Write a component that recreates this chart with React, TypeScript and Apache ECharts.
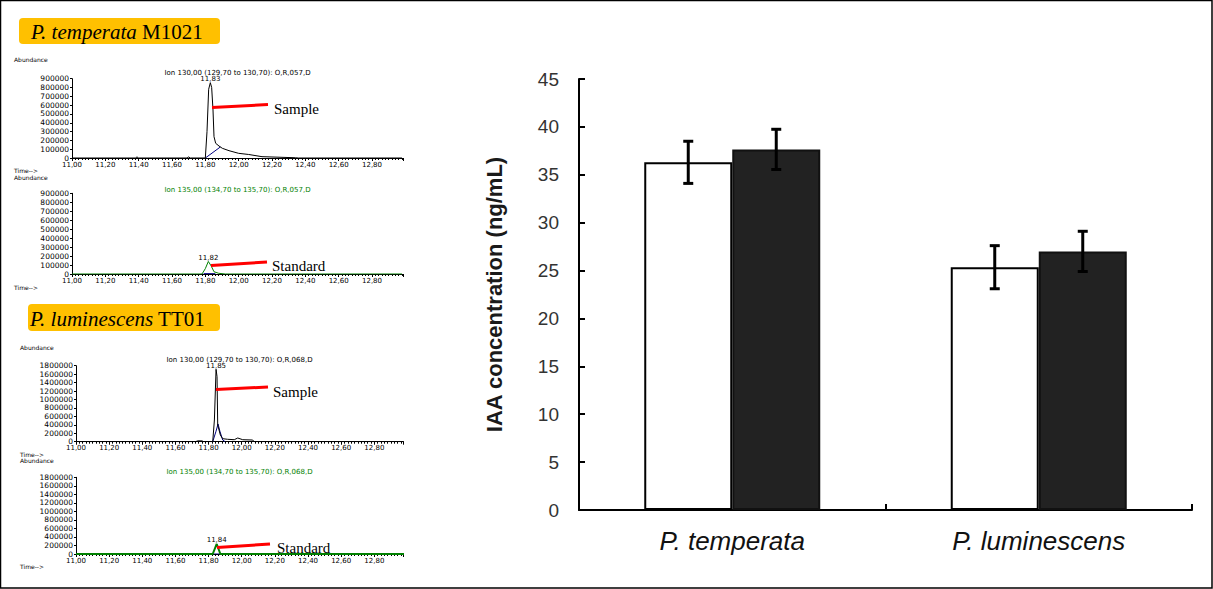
import React, { useEffect, useRef } from "react";
import * as echarts from "echarts";

// ---- Bar chart data ----
const CATEGORIES = ["P. temperata", "P. luminescens"];
const WHITE_MEANS = [36.3, 25.35];
const WHITE_ERR = [2.2, 2.25];
const BLACK_MEANS = [37.65, 27.0];
const BLACK_ERR = [2.1, 2.1];
const Y_MAX = 45;
const Y_INTERVAL = 5;

// ---- Chromatogram data ([time min, abundance]) ----
const TEMP_SAMPLE_TRACE: [number, number][] = [
  [11.0, 0], [11.38, 0], [11.39, 12000], [11.4, 0], [11.69, 0], [11.7, 12000], [11.71, 0],
  [11.8, 0], [11.81, 300000], [11.82, 780000], [11.83, 855000], [11.838, 800000],
  [11.846, 545000], [11.852, 242000], [11.862, 167000], [11.882, 136000], [11.902, 110000],
  [11.942, 83000], [12.0, 53000], [12.06, 40000], [12.14, 15000], [12.34, 3000], [12.36, 0], [12.98, 0],
];
const TEMP_SAMPLE_BASE: [number, number][] = [[11.8, 0], [11.89, 125000]];
const TEMP_STD_TRACE: [number, number][] = [
  [11.0, 0], [11.78, 0], [11.8, 60000], [11.818, 140000], [11.835, 90000], [11.852, 25000],
  [11.88, 8000], [11.92, 0], [12.98, 0],
];
const TEMP_STD_BASE: [number, number][] = [[11.79, 4000], [11.86, 4000]];
const LUM_SAMPLE_TRACE: [number, number][] = [
  [11.0, 0], [11.72, 0], [11.735, 20000], [11.76, 20000], [11.77, 0], [11.825, 0],
  [11.835, 514000], [11.845, 1715000], [11.851, 1540000], [11.855, 395000], [11.871, 159000],
  [11.885, 71000], [11.915, 57000], [11.955, 47000], [11.976, 88000], [12.006, 47000],
  [12.066, 40000], [12.075, 0], [12.98, 0],
];
const LUM_SAMPLE_BASE: [number, number][] = [
  [11.825, 0], [11.845, 250000], [11.857, 420000], [11.868, 250000], [11.885, 40000], [11.9, 0],
];
const LUM_STD_TRACE: [number, number][] = [
  [11.0, 0], [11.825, 0], [11.849, 235000], [11.871, 0], [12.98, 0],
];
const LUM_STD_BASE: [number, number][] = [[11.822, 0], [11.874, 0]];
const PEAK_LABELS = ["11,83", "11,82", "11,85", "11,84"];
const ION_TITLES = [
  "Ion 130,00 (129,70 to 130,70): O,R,057,D",
  "Ion 135,00 (134,70 to 135,70): O,R,057,D",
  "Ion 130,00 (129,70 to 130,70): O,R,068,D",
  "Ion 135,00 (134,70 to 135,70): O,R,068,D",
];
const X_MIN = 11.0;
const X_INTERVAL = 0.2;
const Y_MAX_TEMP = 900000;
const Y_INT_TEMP = 100000;
const Y_MAX_LUM = 1800000;
const Y_INT_LUM = 200000;

const SANS = "'Liberation Sans', Arial, sans-serif";
const SERIF = "'Liberation Serif', 'Times New Roman', serif";
const MONO = "'DejaVu Sans', sans-serif";

const peakOf = (arr: [number, number][]) =>
  arr.reduce((m, p) => (p[1] > m[1] ? p : m), arr[0]);

export default function App() {
  const ref = useRef<HTMLDivElement>(null);

  useEffect(() => {
    document.body.style.margin = "0";
    const chart = echarts.init(ref.current!, null, { renderer: "svg" });

    const chromGrids = [
      { left: 72, top: 78.7, width: 331, height: 79.3 },
      { left: 72, top: 193.3, width: 331, height: 80.7 },
      { left: 76, top: 365.7, width: 327, height: 76 },
      { left: 76, top: 477.3, width: 327, height: 76.7 },
    ];
    const xMaxes = [12.986, 12.986, 12.973, 12.973];
    const yMaxes = [Y_MAX_TEMP, Y_MAX_TEMP, Y_MAX_LUM, Y_MAX_LUM];
    const yInts = [Y_INT_TEMP, Y_INT_TEMP, Y_INT_LUM, Y_INT_LUM];

    const chromX = chromGrids.map((_, i) => ({
      type: "value",
      gridIndex: i + 1,
      min: X_MIN,
      max: xMaxes[i],
      interval: X_INTERVAL,
      axisLine: { lineStyle: { color: "#000", width: 1 } },
      axisTick: { show: true, length: 3, lineStyle: { color: "#000" } },
      minorTick: { show: true, splitNumber: 10, length: 2, lineStyle: { color: "#000" } },
      splitLine: { show: false },
      axisLabel: {
        fontSize: 7,
        fontFamily: MONO,
        color: "#000",
        margin: 3,
        showMaxLabel: false,
        formatter: (v: number) => v.toFixed(2).replace(".", ","),
      },
    }));
    const chromY = chromGrids.map((_, i) => ({
      type: "value",
      gridIndex: i + 1,
      min: 0,
      max: yMaxes[i],
      interval: yInts[i],
      axisLine: { show: true, lineStyle: { color: "#000", width: 1 } },
      axisTick: { show: true, length: 2, lineStyle: { color: "#000" } },
      splitLine: { show: false },
      axisLabel: {
        fontSize: 7.5,
        fontFamily: MONO,
        color: "#000",
        margin: 3,
        formatter: (v: number) => String(Math.round(v)),
      },
    }));

    const traces: [number, number][][] = [TEMP_SAMPLE_TRACE, TEMP_STD_TRACE, LUM_SAMPLE_TRACE, LUM_STD_TRACE];
    const bases: [number, number][][] = [TEMP_SAMPLE_BASE, TEMP_STD_BASE, LUM_SAMPLE_BASE, LUM_STD_BASE];
    const traceColors = ["#000000", "#008000", "#000000", "#008000"];
    const traceWidths = [1, 1, 1, 2];

    const chromSeries: any[] = [];
    traces.forEach((tr, i) => {
      chromSeries.push({
        type: "line",
        name: "base" + i,
        xAxisIndex: i + 1,
        yAxisIndex: i + 1,
        data: bases[i],
        symbol: "none",
        lineStyle: { color: "#000080", width: 1 },
        z: 3,
      });
      chromSeries.push({
        type: "line",
        name: "trace" + i,
        xAxisIndex: i + 1,
        yAxisIndex: i + 1,
        data: tr,
        symbol: "none",
        lineStyle: { color: traceColors[i], width: traceWidths[i] },
        z: 4,
        markPoint: {
          symbol: "circle",
          symbolSize: 0,
          silent: true,
          label: {
            show: true,
            position: "top",
            distance: 0,
            formatter: PEAK_LABELS[i],
            fontSize: 7,
            fontFamily: MONO,
            color: "#000",
          },
          data: [{ coord: peakOf(tr) }],
        },
      });
    });

    const errSeries = (means: number[], errs: number[], offset: number, name: string) => ({
      type: "custom",
      name,
      xAxisIndex: 0,
      yAxisIndex: 0,
      z: 10,
      data: means.map((m, i) => [i, m, errs[i]]),
      renderItem: (params: any, api: any) => {
        const cat = api.value(0);
        const v = api.value(1);
        const e = api.value(2);
        const top = api.coord([cat, v + e]);
        const bot = api.coord([cat, v - e]);
        const x = top[0] + offset;
        const cap = 5;
        const st = { stroke: "#000", lineWidth: 3 };
        return {
          type: "group",
          children: [
            { type: "line", shape: { x1: x, y1: top[1], x2: x, y2: bot[1] }, style: st },
            { type: "line", shape: { x1: x - cap, y1: top[1], x2: x + cap, y2: top[1] }, style: st },
            { type: "line", shape: { x1: x - cap, y1: bot[1], x2: x + cap, y2: bot[1] }, style: st },
          ],
        };
      },
    });

    const txt = (x: number, y: number, text: string, extra: any = {}) => ({
      type: "text",
      x,
      y,
      z: 100,
      style: {
        text,
        fill: "#000",
        fontSize: 7,
        fontFamily: MONO,
        align: "left",
        verticalAlign: "middle",
        textAlign: "left",
        textVerticalAlign: "middle",
        ...extra,
      },
    });
    const redLine = (x1: number, y1: number, x2: number, y2: number) => ({
      type: "line",
      z: 100,
      shape: { x1, y1, x2, y2 },
      style: { stroke: "#ff0000", lineWidth: 3 },
    });
    const box = (x: number, y: number, w: number, h: number, tx: number, ital: string, rest: string) => [
      {
        type: "rect",
        z: 90,
        shape: { x, y, width: w, height: h, r: 4 },
        style: { fill: "#ffc000" },
      },
      {
        type: "text",
        z: 100,
        x: tx,
        y: y + h / 2 + 1,
        style: {
          text: "{i|" + ital + "} " + rest,
          fill: "#000",
          fontSize: 21,
          fontFamily: SERIF,
          verticalAlign: "middle",
          textVerticalAlign: "middle",
          rich: {
            i: { fontStyle: "italic", fontSize: 21, fontFamily: SERIF, fill: "#000" },
          },
        },
      },
    ];

    const graphics: any[] = [
      {
        type: "rect",
        z: 100,
        shape: { x: 0.5, y: 0.5, width: 1211.5, height: 587.5 },
        style: { fill: "none", stroke: "#000", lineWidth: 1.5 },
      },
      ...box(19, 18, 201, 26, 31, "P. temperata", "M1021"),
      ...box(28, 304, 192, 27, 30, "P. luminescens", "TT01"),
      txt(14, 59.5, "Abundance", { fontSize: 6 }),
      txt(14, 170, "Time-->", { fontSize: 6 }),
      txt(14, 177, "Abundance", { fontSize: 6 }),
      txt(14, 287, "Time-->", { fontSize: 6 }),
      txt(20, 347.5, "Abundance", { fontSize: 6 }),
      txt(20, 454, "Time-->", { fontSize: 6 }),
      txt(20, 460, "Abundance", { fontSize: 6 }),
      txt(20, 566.5, "Time-->", { fontSize: 6 }),
      txt(237.5, 72.5, ION_TITLES[0], { align: "center", textAlign: "center" }),
      txt(237.5, 190, ION_TITLES[1], { align: "center", textAlign: "center", fill: "#008000" }),
      txt(239.5, 359.5, ION_TITLES[2], { align: "center", textAlign: "center" }),
      txt(239.5, 472, ION_TITLES[3], { align: "center", textAlign: "center", fill: "#008000" }),
      redLine(212, 107.5, 268, 104.5),
      redLine(211, 265.5, 267, 262),
      redLine(216, 389.5, 268, 387),
      redLine(217, 547.5, 270, 544),
      txt(274, 109, "Sample", { fontSize: 15, fontFamily: SERIF }),
      txt(272, 266, "Standard", { fontSize: 15, fontFamily: SERIF }),
      txt(273, 392, "Sample", { fontSize: 15, fontFamily: SERIF }),
      txt(277, 548, "Standard", { fontSize: 15, fontFamily: SERIF }),
    ];

    const option: any = {
      animation: false,
      backgroundColor: "#fff",
      grid: [
        { left: 579, right: 21, top: 79, bottom: 79 },
        ...chromGrids,
      ],
      xAxis: [
        {
          type: "category",
          gridIndex: 0,
          data: CATEGORIES,
          axisLine: { lineStyle: { color: "#000", width: 2 } },
          axisTick: { show: true, inside: true, length: 6, lineStyle: { color: "#000", width: 2 } },
          axisLabel: {
            fontSize: 26,
            fontStyle: "italic",
            fontFamily: SANS,
            color: "#111",
            margin: 18,
          },
          splitLine: { show: false },
        },
        ...chromX,
      ],
      yAxis: [
        {
          type: "value",
          gridIndex: 0,
          min: 0,
          max: Y_MAX,
          interval: Y_INTERVAL,
          name: "IAA concentration (ng/mL)",
          nameLocation: "middle",
          nameGap: 74,
          nameTextStyle: { fontSize: 22, fontWeight: "bold", fontFamily: SANS, color: "#1a1a1a" },
          axisLine: { show: true, lineStyle: { color: "#000", width: 2 } },
          axisTick: { show: true, inside: true, length: 6, lineStyle: { color: "#000", width: 2 } },
          axisLabel: { fontSize: 19, fontFamily: SANS, color: "#333", margin: 20 },
          splitLine: { show: false },
        },
        ...chromY,
      ],
      series: [
        {
          type: "bar",
          name: "White",
          xAxisIndex: 0,
          yAxisIndex: 0,
          data: WHITE_MEANS,
          barWidth: 88,
          barGap: "0%",
          itemStyle: { color: "#ffffff", borderColor: "#000", borderWidth: 2 },
        },
        {
          type: "bar",
          name: "Black",
          xAxisIndex: 0,
          yAxisIndex: 0,
          data: BLACK_MEANS,
          barWidth: 88,
          barGap: "0%",
          itemStyle: { color: "#222222", borderColor: "#111", borderWidth: 2 },
        },
        errSeries(WHITE_MEANS, WHITE_ERR, -44, "White error"),
        errSeries(BLACK_MEANS, BLACK_ERR, 44, "Black error"),
        ...chromSeries,
      ],
      graphic: graphics,
    };

    chart.setOption(option);
    return () => chart.dispose();
  }, []);

  return (
    <div
      ref={ref}
      style={{ position: "absolute", left: 0, top: 0, width: 1213, height: 589, background: "#fff" }}
    />
  );
}
